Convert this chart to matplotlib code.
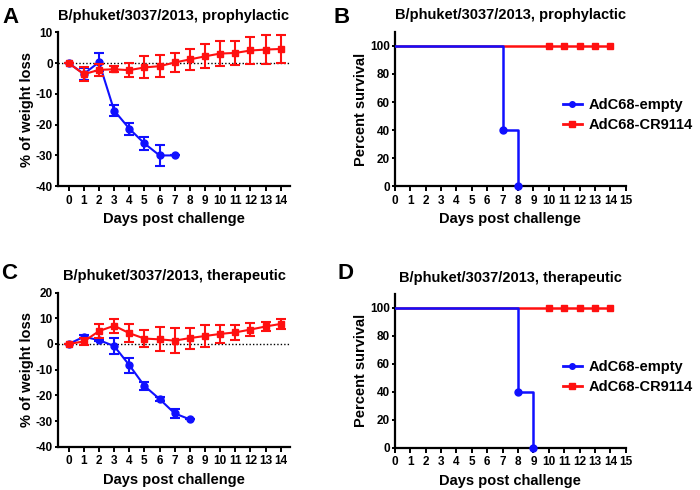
import matplotlib
matplotlib.use("Agg")
import matplotlib.pyplot as plt

plt.rcParams["font.family"] = ["Liberation Sans", "DejaVu Sans"]
plt.rcParams["font.weight"] = "bold"
plt.rcParams["axes.unicode_minus"] = False

BLUE = "#1010ff"
RED = "#ff1010"

days = list(range(15))

# A: prophylactic weight change
a_empty_days = [0, 1, 2, 3, 4, 5, 6, 7]
a_empty = [0, -3.5, 0.3, -15.4, -21.3, -26.1, -30.0, -30.0]
a_empty_err = [0, 2.0, 3.0, 1.9, 2.0, 2.1, 3.3, 0]
a_cr = [0, -3.6, -2.2, -2.0, -2.3, -1.4, -1.0, 0.2, 1.2, 2.2, 3.1, 3.3, 4.1, 4.4, 4.6]
a_cr_err = [0, 2.2, 2.0, 0.9, 2.3, 3.6, 3.5, 3.2, 3.5, 3.9, 4.0, 3.8, 4.4, 4.7, 4.6]

# C: therapeutic weight change
c_empty_days = [0, 1, 2, 3, 4, 5, 6, 7, 8]
c_empty = [0, 2.8, 1.5, -0.8, -8.2, -16.3, -21.4, -27.0, -29.3]
c_empty_err = [0, 0.5, 0.5, 3.2, 2.9, 1.6, 0.9, 1.6, 0]
c_cr = [0, 1.0, 5.0, 7.1, 4.2, 2.1, 1.8, 1.3, 2.3, 3.1, 3.9, 4.5, 5.6, 6.8, 7.8]
c_cr_err = [0, 1.3, 2.7, 2.8, 3.6, 3.3, 4.7, 5.0, 4.1, 4.3, 3.6, 2.9, 2.4, 1.7, 1.9]

# B / D: survival (Kaplan-Meier steps)
b_empty_t = [0, 7, 8]
b_empty_s = [100, 40, 0]
d_empty_t = [0, 8, 9]
d_empty_s = [100, 40, 0]
cr_t = [0, 14]
cr_s = [100, 100]
cr_censor = [10, 11, 12, 13, 14]

title_pro = "B/phuket/3037/2013, prophylactic"
title_the = "B/phuket/3037/2013, therapeutic"

fig = plt.figure(figsize=(7.0, 4.9), dpi=100)
axA = fig.add_axes([0.083, 0.620, 0.331, 0.314])
axB = fig.add_axes([0.564, 0.620, 0.330, 0.315])
axC = fig.add_axes([0.083, 0.088, 0.331, 0.315])
axD = fig.add_axes([0.564, 0.086, 0.330, 0.314])


def style(ax):
    for s in ["top", "right"]:
        ax.spines[s].set_visible(False)
    for s in ["left", "bottom"]:
        ax.spines[s].set_linewidth(1.6)
    ax.tick_params(width=1.4, labelsize=8.5)
    ax.tick_params(axis="x", length=3.5, pad=2.5)
    ax.tick_params(axis="y", length=2.5, pad=1.2)
    for lab in ax.get_xticklabels() + ax.get_yticklabels():
        lab.set_fontweight("bold")


def weight_panel(ax, edays, e, eerr, cr, crerr, ylim, yticks, title):
    ax.axhline(0, color="black", ls=(0, (1, 1.5)), lw=1.0, zorder=1)
    ax.errorbar(edays, e, yerr=eerr, color=BLUE, marker="o", ms=5, lw=1.5,
                capsize=3.5, capthick=1.5, elinewidth=1.5, zorder=2)
    ax.errorbar(days, cr, yerr=crerr, color=RED, marker="s", ms=5, lw=1.5,
                capsize=3.5, capthick=1.5, elinewidth=1.5, zorder=3)
    ax.set_xlim(-0.7, 14.6)
    ax.set_ylim(*ylim)
    ax.set_xticks(days)
    ax.set_yticks(yticks)
    ax.set_xlabel("Days post challenge", fontsize=10.5, fontweight="bold", labelpad=4)
    ax.set_ylabel("% of weight loss", fontsize=10.5, fontweight="bold", labelpad=1)
    ax.set_title(title, fontsize=10.5, fontweight="bold", pad=9)
    style(ax)


def survival_panel(ax, et, es, title):
    ax.plot(cr_t, cr_s, color=RED, lw=1.8, zorder=2)
    ax.plot(cr_censor, [100] * len(cr_censor), color=RED, marker="s", ms=5,
            ls="none", zorder=3)
    ax.step(et, es, where="post", color=BLUE, lw=1.8, zorder=4)
    ax.plot(et[1:], es[1:], color=BLUE, marker="o", ms=5, ls="none", zorder=5,
            clip_on=False)
    ax.plot([], [], color=BLUE, marker="o", ms=4, lw=2, label="AdC68-empty")
    ax.plot([], [], color=RED, marker="s", ms=4, lw=2, label="AdC68-CR9114")
    ax.set_xlim(0, 15)
    ax.set_ylim(0, 110)
    ax.set_xticks(range(16))
    ax.set_yticks(range(0, 101, 20))
    ax.set_xlabel("Days post challenge", fontsize=10.5, fontweight="bold", labelpad=4)
    ax.set_ylabel("Percent survival", fontsize=10.5, fontweight="bold", labelpad=1)
    ax.set_title(title, fontsize=10.5, fontweight="bold", pad=9)
    style(ax)
    ax.legend(loc="center left", bbox_to_anchor=(0.727, 0.46), frameon=False,
              prop={"size": 10.5, "weight": "bold"}, handlelength=1.3,
              handletextpad=0.5, labelspacing=0.45, borderpad=0,
              borderaxespad=0)


weight_panel(axA, a_empty_days, a_empty, a_empty_err, a_cr, a_cr_err,
             (-40, 10), range(-40, 11, 10), title_pro)
weight_panel(axC, c_empty_days, c_empty, c_empty_err, c_cr, c_cr_err,
             (-40, 20), range(-40, 21, 10), title_the)
survival_panel(axB, b_empty_t, b_empty_s, title_pro)
survival_panel(axD, d_empty_t, d_empty_s, title_the)

for letter, x, y in [("A", 0.004, 0.985), ("B", 0.477, 0.985),
                     ("C", 0.002, 0.463), ("D", 0.482, 0.463)]:
    fig.text(x, y, letter, fontsize=16, fontweight="bold", va="top")

fig.savefig("out.png", dpi=100)
